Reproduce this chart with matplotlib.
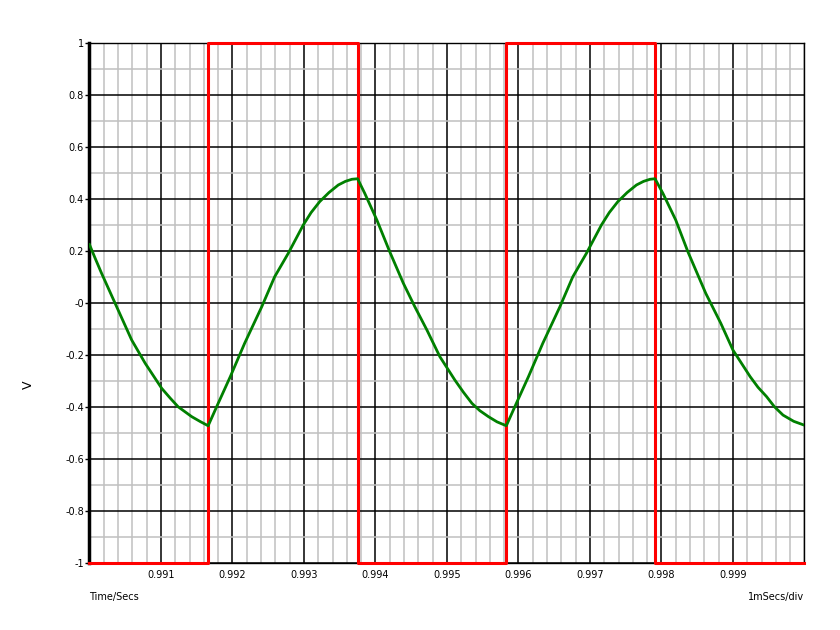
import matplotlib
matplotlib.use('Agg')
import matplotlib.pyplot as plt
from matplotlib.ticker import MultipleLocator, FixedLocator

# green trace
t_green = [0.99000, 0.99008, 0.99017, 0.99038, 0.99059, 0.99078, 0.99101, 0.99113, 0.99124, 0.99143, 0.99155, 0.99166,
	0.99180, 0.99197, 0.99217, 0.99241, 0.99259, 0.99278, 0.99299, 0.99310, 0.99322, 0.99335, 0.99348, 0.99358, 0.99367, 0.99375,
	0.99385, 0.99402, 0.99420, 0.99439, 0.99455, 0.99472, 0.99490, 0.99511, 0.99523, 0.99535, 0.99546, 0.99558, 0.99570, 0.99583,
	0.99597, 0.99614, 0.99634, 0.99658, 0.99676, 0.99695, 0.99716, 0.99727, 0.99739, 0.99752, 0.99765, 0.99775, 0.99784, 0.99791,
	0.99802, 0.99820, 0.99837, 0.99862, 0.99883, 0.99900, 0.99924, 0.99935, 0.99947, 0.99958, 0.99970, 0.99985, 1.00000]
v_green = [0.225, 0.172, 0.114, -0.014, -0.142, -0.232, -0.328, -0.366, -0.399, -0.437, -0.456, -0.472,
	-0.386, -0.283, -0.155, -0.014, 0.101, 0.191, 0.300, 0.348, 0.390, 0.425, 0.454, 0.468, 0.476, 0.478,
	0.422, 0.319, 0.197, 0.076, -0.014, -0.104, -0.206, -0.296, -0.343, -0.386, -0.414, -0.437, -0.457, -0.472,
	-0.386, -0.283, -0.155, -0.014, 0.101, 0.191, 0.300, 0.348, 0.390, 0.425, 0.454, 0.468, 0.476, 0.478,
	0.422, 0.319, 0.197, 0.037, -0.078, -0.181, -0.283, -0.324, -0.360, -0.399, -0.431, -0.455, -0.470]

# red square wave
t_red = [0.99000, 0.99166, 0.99166, 0.99375, 0.99375, 0.99583, 0.99583, 0.99791, 0.99791, 1.00000]
v_red = [-1, -1, 1, 1, -1, -1, 1, 1, -1, -1]

x_ticks = [0.991, 0.992, 0.993, 0.994, 0.995, 0.996, 0.997, 0.998, 0.999]
x_labels = ['0.991', '0.992', '0.993', '0.994', '0.995', '0.996', '0.997', '0.998', '0.999']
y_ticks = [1, 0.8, 0.6, 0.4, 0.2, 0, -0.2, -0.4, -0.6, -0.8, -1]
y_labels = ['1', '0.8', '0.6', '0.4', '0.2', '-0', '-0.2', '-0.4', '-0.6', '-0.8', '-1']

plt.rcParams['font.family'] = ['Liberation Sans Narrow', 'DejaVu Sans']

fig = plt.figure(figsize=(8.4, 6.3), dpi=100)
ax = fig.add_axes([0.1065, 0.1063, 0.8512, 0.8254])
ax.set_xlim(0.990, 1.000)
ax.set_ylim(-1, 1)

ax.xaxis.set_minor_locator(MultipleLocator(0.0002))
ax.yaxis.set_minor_locator(MultipleLocator(0.1))
ax.set_xticks(x_ticks, x_labels)
ax.set_yticks(y_ticks, y_labels)
ax.grid(which='minor', color='#c0c0c0', linewidth=1.1)
ax.grid(which='major', color='black', linewidth=1.1)
ax.set_axisbelow(True)

ax.tick_params(axis='x', which='both', length=0, labelsize=7, pad=5)
ax.tick_params(axis='y', which='major', length=3, width=1, labelsize=7, pad=1)
ax.tick_params(axis='y', which='minor', length=0)

for s in ['top', 'right', 'bottom']:
	ax.spines[s].set_linewidth(1.0)
ax.spines['left'].set_linewidth(2.5)

ax.plot(t_red, v_red, color='#ff0000', linewidth=2.2, clip_on=False, zorder=3)
ax.plot(t_green, v_green, color='#008000', linewidth=2.0, zorder=4)

fig.text(89 / 840, 1 - 597 / 630, 'Time/Secs', fontsize=7, ha='left', va='center')
fig.text(804 / 840, 1 - 597 / 630, '1mSecs/div', fontsize=7, ha='right', va='center')
fig.text(28 / 840, 1 - 385 / 630, 'V', fontsize=9, rotation=90, ha='center', va='center')

fig.savefig('out.png', dpi=100)
